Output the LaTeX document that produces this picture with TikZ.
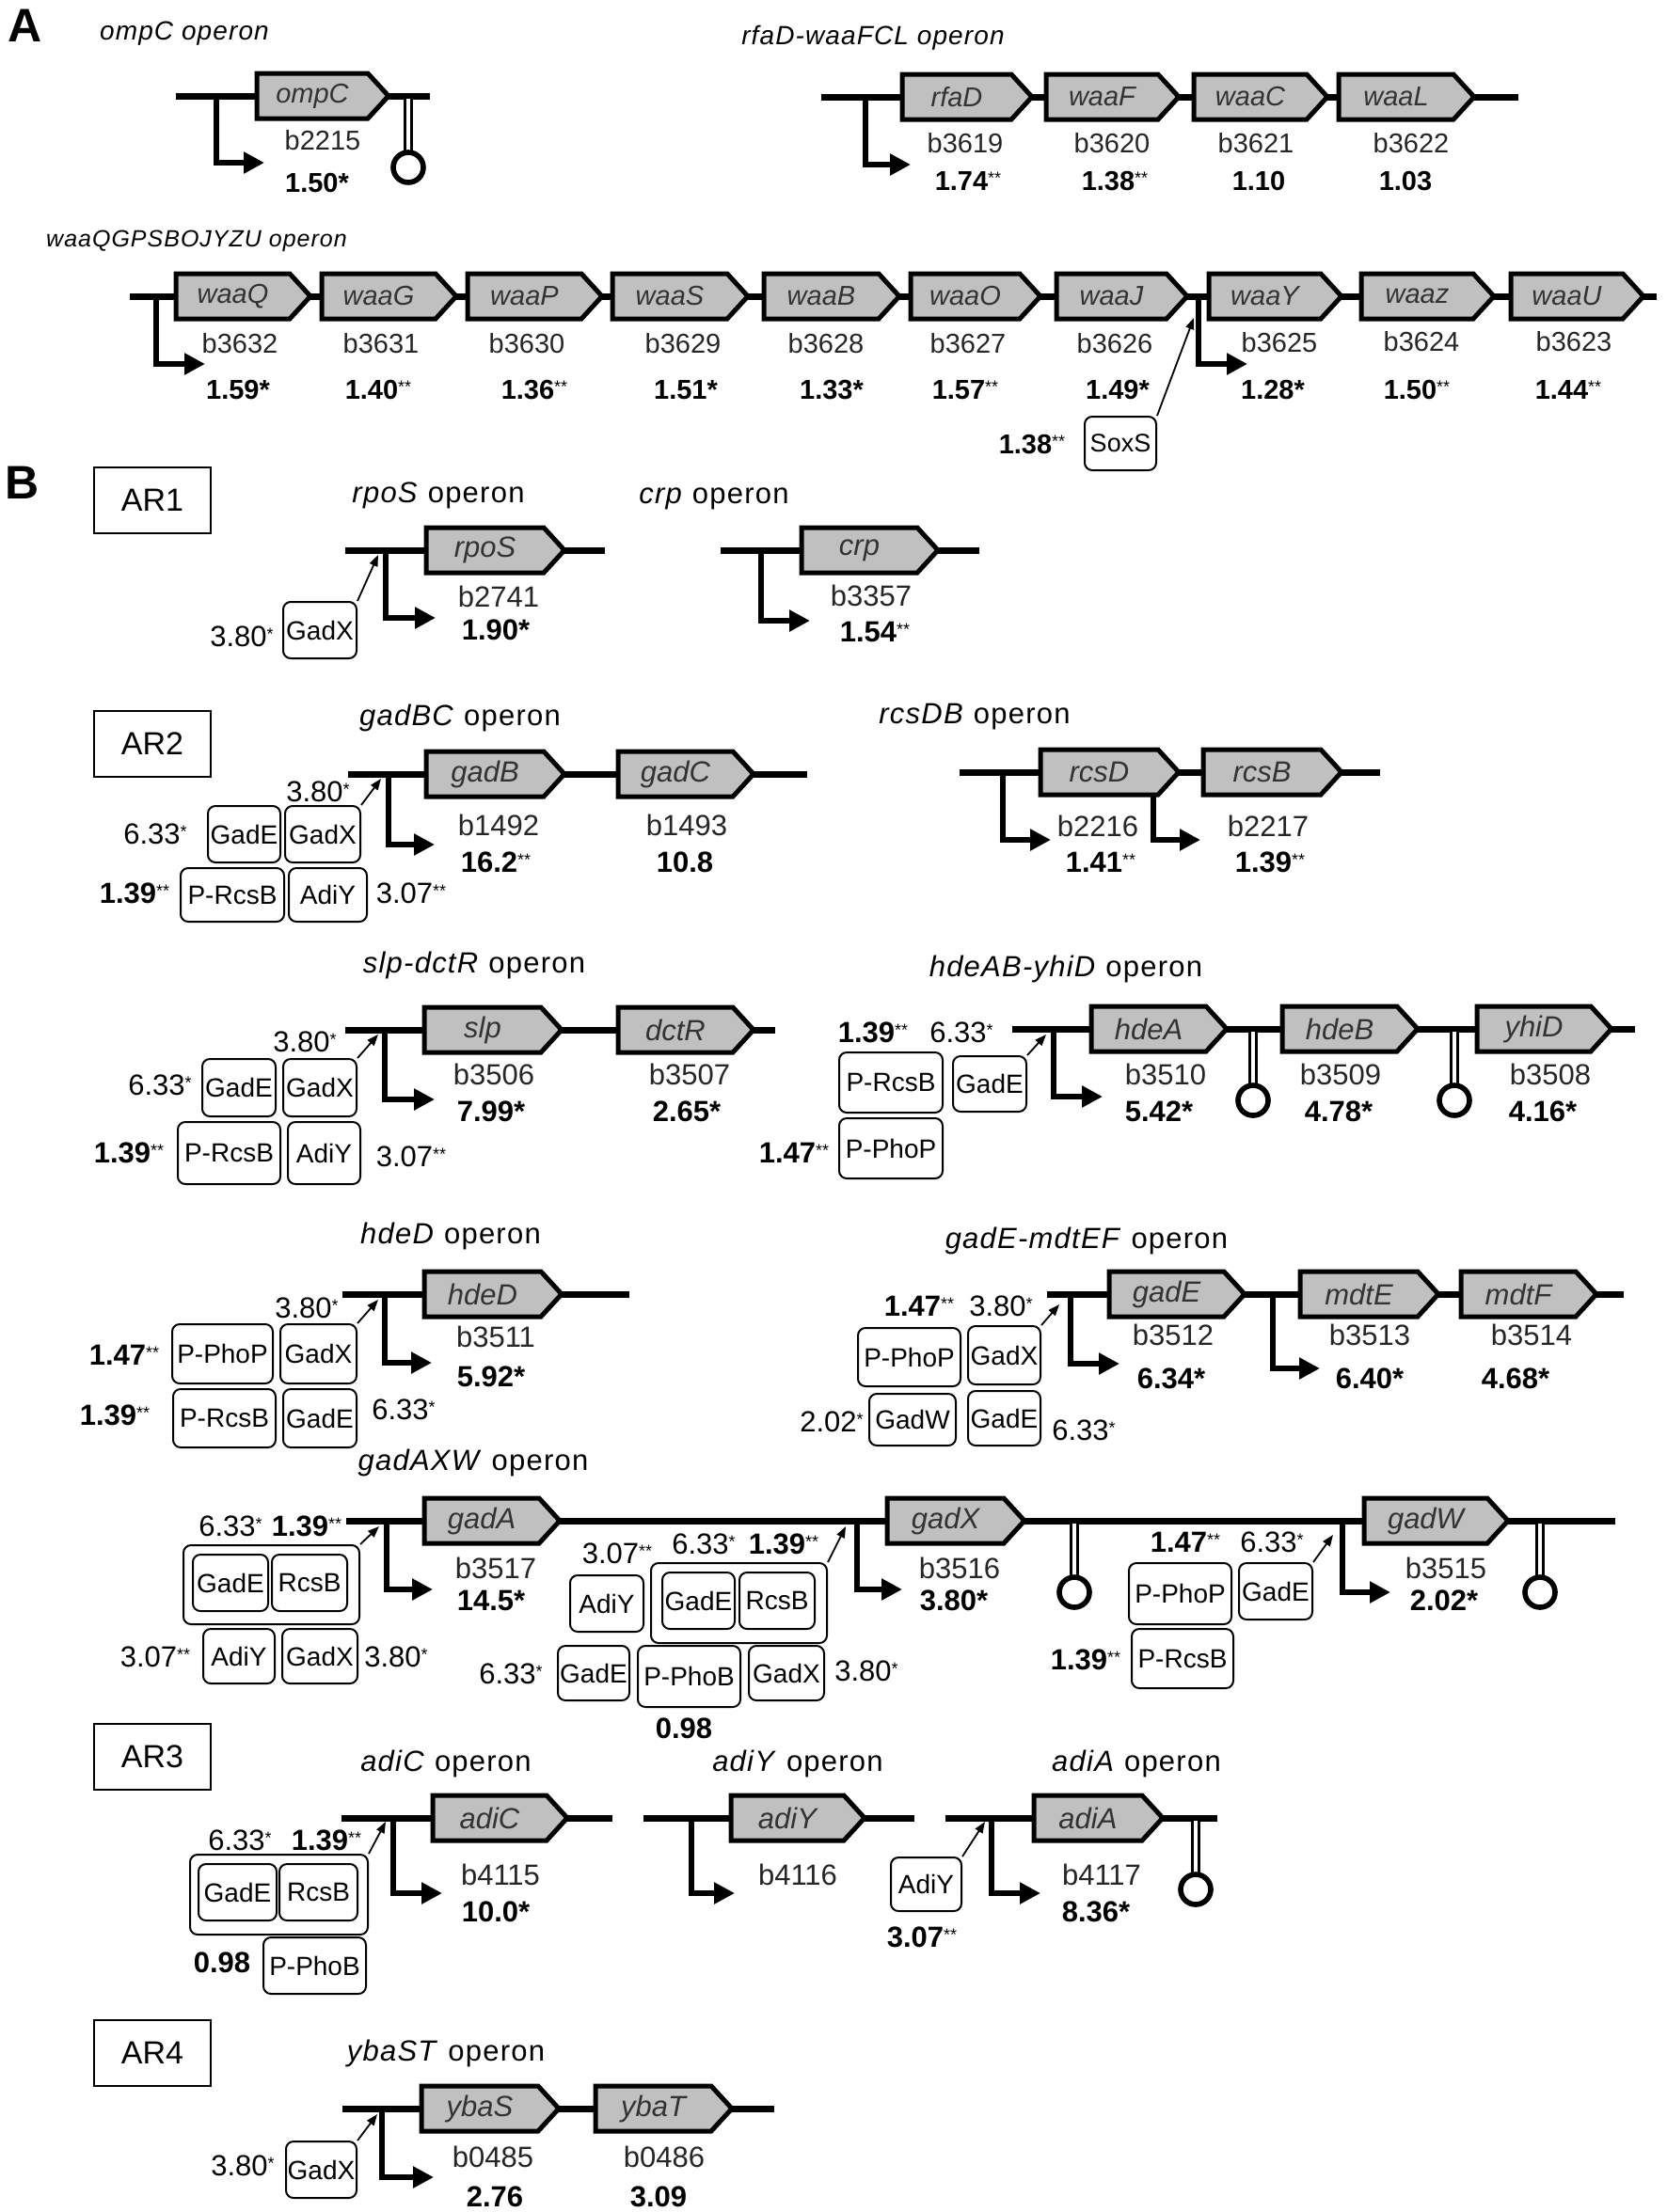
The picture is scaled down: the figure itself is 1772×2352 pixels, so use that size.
\documentclass[tikz,border=0pt]{standalone}
\usepackage{fontspec}
\setmainfont{Liberation Sans}
\newfontfamily\ttl[LetterSpace=4]{Liberation Sans}
\usetikzlibrary{arrows.meta}
\definecolor{gfill}{RGB}{192,192,192}
\newcommand\one{\raisebox{3.5pt}{\fontsize{9}{9}\selectfont\mdseries *}}
\newcommand\two{\raisebox{3.5pt}{\fontsize{9}{9}\selectfont\mdseries **}}
% gene: name, x0, xtip, y, label
\newcommand\gn[5]{\draw[genebox] (#2,#4-24) -- ({#3-22},#4-24) -- (#3,#4) -- ({#3-22},#4+24) -- (#2,#4+24) -- cycle;
 \node[glab] (#1) at ({(#2+#3-22)/2},#4) {#5};}
% terminator: name, x, ybackbone
\newcommand\term[3]{\draw[stem] (#2,#3+3) -- (#2,#3+59); \draw[loopc] (#2,#3+76) circle[radius=16]; \coordinate (#1) at (#2,#3+76);}
% promoter: name, x, ytop, ybot, xtip
\newcommand\prom[5]{\coordinate (#1) at (#2,#3); \draw[promo] (#1) -- (#2,#4) -- (#5,#4);}
% regulator box: name, x0, y0, x1, y1, text
\newcommand\reg[6]{\pgfmathsetmacro\rw{(#4-#2)*0.5}\pgfmathsetmacro\rh{(#5-#3)*0.5}%
 \node[regbox, minimum width=\rw pt, minimum height=\rh pt] (#1) at ({(#2+#4)/2},{(#3+#5)/2}) {#6};}
\tikzset{
 bb/.style={line width=3.5pt},
 genebox/.style={draw, fill=gfill, line width=2.5pt, line join=miter},
 glab/.style={font=\fontsize{15.5}{18}\selectfont\itshape, text=black!80},
 bl/.style={font=\fontsize{15.5}{18}\selectfont, text=black!85},
 gv/.style={font=\fontsize{15.5}{18}\selectfont\bfseries},
 rv/.style={font=\fontsize{15.5}{18}\selectfont},
 rvb/.style={font=\fontsize{15.5}{18}\selectfont\bfseries},
 regbox/.style={draw, rounded corners=4pt, line width=1pt, inner sep=0pt, font=\fontsize{14}{16}\selectfont},
 promo/.style={line width=3pt, line join=miter, -{Triangle[length=11pt,width=11pt]}},
 rarr/.style={line width=0.9pt, -{Triangle[length=6pt,width=4.5pt]}},
 stem/.style={line width=1.3pt, double, double distance=2pt},
 loopc/.style={line width=2.8pt},
 ttlB/.style={font=\ttl\fontsize{15.5}{18}\selectfont},
 ttlA/.style={font=\ttl\fontsize{14}{17}\selectfont\itshape},
 panel/.style={font=\fontsize{25}{30}\selectfont\bfseries},
 arbox/.style={draw, line width=1pt, inner sep=0pt, minimum width=62pt, minimum height=35pt, font=\fontsize{17}{20}\selectfont},
}
\begin{document}
\begin{tikzpicture}[x=0.5pt,y=-0.5pt]
\fill[white] (0,0) rectangle (1772,2352);
\useasboundingbox (0,0) rectangle (1772,2352);

%% ================= Panel A =================
\begin{scope}[glab/.style={font=\fontsize{14.5}{17}\selectfont\itshape, text=black!80},
  bl/.style={font=\fontsize{14.5}{17}\selectfont, text=black!85},
  gv/.style={font=\fontsize{14.5}{17}\selectfont\bfseries},
  rvb/.style={font=\fontsize{14.5}{17}\selectfont\bfseries},
  regbox/.style={draw, rounded corners=4pt, line width=1pt, inner sep=0pt, font=\fontsize{13.5}{16}\selectfont}]
\node[panel] (pA) at (27,27) {A};
% ompC
\node[ttlA] (tOmpC) at (196,36) {ompC operon};
\draw[bb] (187,102) -- (457,102);
\prom{pOmpC}{230}{102}{173}{281}
\term{tmOmpC}{434}{102}
\gn{gOmpC}{273}{413}{102}{ompC}
\node[bl] (bOmpC) at (343,149) {b2215};
\node[gv] (vOmpC) at (337,195) {1.50*};
% rfaD-waaFCL
\node[ttlA] (tRfa) at (928,40) {rfaD-waaFCL operon};
\draw[bb] (873,103) -- (1614,103);
\prom{pRfa}{920}{103}{175}{968}
\gn{gRfaD}{959}{1097}{103}{rfaD}
\gn{gWaaF}{1112}{1253}{103}{waaF}
\gn{gWaaC}{1269}{1411}{103}{waaC}
\gn{gWaaL}{1423}{1567}{103}{waaL}
\node[bl] (b3619) at (1026,152) {b3619};
\node[bl] (b3620) at (1182,152) {b3620};
\node[bl] (b3621) at (1335,152) {b3621};
\node[bl] (b3622) at (1500,152) {b3622};
\node[gv] (v3619) at (1029,193) {1.74\two};
\node[gv] (v3620) at (1185,193) {1.38\two};
\node[gv] (v3621) at (1338,193) {1.10};
\node[gv] (v3622) at (1494,193) {1.03};
% waaQGPSBOJYZU
\node[ttlA, font=\ttl\fontsize{12.5}{15}\selectfont\itshape] (tWaa) at (209,256) {waaQGPSBOJYZU operon};
\draw[bb] (138,315) -- (1761,315);
\prom{pWaa1}{166}{315}{387}{218}
\prom{pWaa2}{1274}{315}{387}{1326}
\gn{gWaaQ}{187}{330}{315}{waaQ}
\gn{gWaaG}{342}{485}{315}{waaG}
\gn{gWaaP}{497}{640}{315}{waaP}
\gn{gWaaS}{651}{795}{315}{waaS}
\gn{gWaaB}{812}{956}{315}{waaB}
\gn{gWaaO}{968}{1106}{315}{waaO}
\gn{gWaaJ}{1123}{1262}{315}{waaJ}
\gn{gWaaY}{1285}{1426}{315}{waaY}
\gn{gWaaZ}{1447}{1588}{315}{waaz}
\gn{gWaaU}{1606}{1747}{315}{waaU}
\node[bl] (b3632) at (255,365) {b3632};
\node[bl] (b3631) at (405,365) {b3631};
\node[bl] (b3630) at (560,365) {b3630};
\node[bl] (b3629) at (726,365) {b3629};
\node[bl] (b3628) at (878,365) {b3628};
\node[bl] (b3627) at (1029,365) {b3627};
\node[bl] (b3626) at (1185,365) {b3626};
\node[bl] (b3625) at (1360,364) {b3625};
\node[bl] (b3624) at (1511,363) {b3624};
\node[bl] (b3623) at (1673,363) {b3623};
\node[gv] (v3632) at (253,415) {1.59*};
\node[gv] (v3631) at (402,415) {1.40\two};
\node[gv] (v3630) at (568,415) {1.36\two};
\node[gv] (v3629) at (729,415) {1.51*};
\node[gv] (v3628) at (884,415) {1.33*};
\node[gv] (v3627) at (1026,415) {1.57\two};
\node[gv] (v3626) at (1188,415) {1.49*};
\node[gv] (v3625) at (1353,415) {1.28*};
\node[gv] (v3624) at (1506,415) {1.50\two};
\node[gv] (v3623) at (1667,415) {1.44\two};
\reg{rSoxS}{1153}{443}{1229}{500}{SoxS}
\coordinate (aSoxS) at (1269,338);
\draw[rarr] (rSoxS.north east) -- (aSoxS);
\node[rvb] (vSoxS) at (1097,473) {1.38\two};
\end{scope}

%% ================= Panel B =================
\node[panel] (pB) at (24,513) {B};
\node[arbox] (ar1) at (162,532) {AR1};
\node[arbox] (ar2) at (162,791) {AR2};
\node[arbox] (ar3) at (162,1868) {AR3};
\node[arbox] (ar4) at (162,2183) {AR4};

% rpoS
\node[ttlB] (tRpoS) at (466,527) {\textit{rpoS} operon};
\draw[bb] (367,585) -- (643,585);
\prom{pRpoS}{410}{585}{657}{463}
\gn{gRpoS}{453}{600}{585}{rpoS}
\node[bl] (b2741) at (530,634) {b2741};
\node[gv] (v2741) at (527,670) {1.90*};
\reg{rGadX1}{301}{640}{379}{700}{GadX}
\coordinate (aRpoS) at (402,590);
\draw[rarr] (rGadX1.north east) -- (aRpoS);
\node[rv] (vGadX1) at (257,677) {3.80\one};

% crp
\node[ttlB] (tCrp) at (759,530) {\textit{crp} operon};
\draw[bb] (766,585) -- (1041,585);
\prom{pCrp}{809}{585}{660}{861}
\gn{gCrp}{852}{997}{585}{crp}
\node[bl] (b3357) at (926,633) {b3357};
\node[gv] (v3357) at (930,672) {1.54\two};

% gadBC
\node[ttlB] (tGadBC) at (489,763) {\textit{gadBC} operon};
\draw[bb] (370,823) -- (858,823);
\prom{pGadBC}{413}{823}{898}{462}
\gn{gGadB}{453}{600}{823}{gadB}
\gn{gGadC}{657}{801}{823}{gadC}
\node[bl] (b1492) at (530,877) {b1492};
\node[gv] (v1492) at (527,917) {16.2\two};
\node[bl] (b1493) at (730,877) {b1493};
\node[gv] (v1493) at (728,917) {10.8};
\reg{rGadE2}{221}{857}{298}{917}{GadE}
\reg{rGadX2}{303}{857}{383}{917}{GadX}
\reg{rRcsB2}{192}{923}{302}{980}{P-RcsB}
\reg{rAdiY2}{307}{923}{390}{980}{AdiY}
\coordinate (aGadBC) at (405,828);
\draw[rarr] (rGadX2.north east) -- (aGadBC);
\node[rv] (vGadX2) at (338,842) {3.80\one};
\node[rv] (vGadE2) at (165,887) {6.33\one};
\node[rvb] (vRcsB2) at (143,950) {1.39\two};
\node[rv] (vAdiY2) at (437,950) {3.07\two};

% rcsDB
\node[ttlB] (tRcsDB) at (1036,762) {\textit{rcsDB} operon};
\draw[bb] (1020,821) -- (1467,821);
\prom{pRcsD}{1066}{821}{893}{1117}
\gn{gRcsD}{1106}{1253}{821}{rcsD}
\gn{gRcsB}{1279}{1426}{821}{rcsB}
\prom{pRcsB}{1226}{845}{893}{1276}
\node[bl] (b2216) at (1167,878) {b2216};
\node[gv] (v2216) at (1170,917) {1.41\two};
\node[bl] (b2217) at (1348,878) {b2217};
\node[gv] (v2217) at (1350,917) {1.39\two};

% slp-dctR
\node[ttlB] (tSlp) at (504,1026) {\textit{slp-dctR} operon};
\draw[bb] (367,1095) -- (824,1095);
\prom{pSlp}{409}{1095}{1169}{462}
\gn{gSlp}{451}{597}{1095}{slp}
\gn{gDctR}{657}{801}{1095}{dctR}
\node[bl] (b3506) at (525,1142) {b3506};
\node[gv] (v3506) at (522,1182) {7.99*};
\node[bl] (b3507) at (733,1142) {b3507};
\node[gv] (v3507) at (730,1182) {2.65*};
\reg{rGadE3}{215}{1126}{293}{1187}{GadE}
\reg{rGadX3}{301}{1126}{379}{1187}{GadX}
\reg{rRcsB3}{189}{1193}{298}{1259}{P-RcsB}
\reg{rAdiY3}{306}{1193}{383}{1259}{AdiY}
\coordinate (aSlp) at (402,1100);
\draw[rarr] (rGadX3.north east) -- (aSlp);
\node[rv] (vGadX3) at (324,1108) {3.80\one};
\node[rv] (vGadE3) at (170,1154) {6.33\one};
\node[rvb] (vRcsB3) at (137,1226) {1.39\two};
\node[rv] (vAdiY3) at (437,1230) {3.07\two};

% hdeAB-yhiD
\node[ttlB] (tHdeAB) at (1133,1030) {\textit{hdeAB-yhiD} operon};
\draw[bb] (1076,1094) -- (1738,1094);
\prom{pHdeA}{1120}{1094}{1166}{1172}
\term{tmHde1}{1332}{1094}
\term{tmHde2}{1546}{1094}
\gn{gHdeA}{1160}{1304}{1094}{hdeA}
\gn{gHdeB}{1363}{1507}{1094}{hdeB}
\gn{gYhiD}{1570}{1713}{1094}{yhiD}
\node[bl] (b3510) at (1239,1142) {b3510};
\node[gv] (v3510) at (1232,1182) {5.42*};
\node[bl] (b3509) at (1425,1142) {b3509};
\node[gv] (v3509) at (1423,1182) {4.78*};
\node[bl] (b3508) at (1648,1142) {b3508};
\node[gv] (v3508) at (1640,1182) {4.16*};
\reg{rRcsB4}{892}{1119}{1002}{1183}{P-RcsB}
\reg{rGadE4}{1013}{1123}{1091}{1182}{GadE}
\reg{rPhoP4}{892}{1189}{1002}{1253}{P-PhoP}
\coordinate (aHdeA) at (1112,1100);
\draw[rarr] (rGadE4.north east) -- (aHdeA);
\node[rvb] (vRcsB4) at (928,1098) {1.39\two};
\node[rv] (vGadE4) at (1022,1098) {6.33\one};
\node[rvb] (vPhoP4) at (844,1226) {1.47\two};

% hdeD
\node[ttlB] (tHdeD) at (479,1314) {\textit{hdeD} operon};
\draw[bb] (364,1376) -- (669,1376);
\prom{pHdeD}{409}{1376}{1449}{459}
\gn{gHdeD}{451}{597}{1376}{hdeD}
\node[bl] (b3511) at (527,1421) {b3511};
\node[gv] (v3511) at (522,1464) {5.92*};
\reg{rPhoP5}{183}{1408}{290}{1471}{P-PhoP}
\reg{rGadX5}{298}{1408}{379}{1471}{GadX}
\reg{rRcsB5}{184}{1477}{293}{1539}{P-RcsB}
\reg{rGadE5}{301}{1477}{379}{1539}{GadE}
\coordinate (aHdeD) at (402,1382);
\draw[rarr] (rGadX5.north east) -- (aHdeD);
\node[rv] (vGadX5) at (326,1391) {3.80\one};
\node[rvb] (vPhoP5) at (132,1441) {1.47\two};
\node[rvb] (vRcsB5) at (122,1505) {1.39\two};
\node[rv] (vGadE5) at (429,1499) {6.33\one};

% gadE-mdtEF
\node[ttlB] (tGadE) at (1155,1319) {\textit{gadE-mdtEF} operon};
\draw[bb] (1113,1376) -- (1726,1376);
\prom{pGadE}{1138}{1376}{1450}{1190}
\prom{pMdtE}{1353}{1376}{1455}{1403}
\gn{gGadE}{1179}{1323}{1376}{gadE}
\gn{gMdtE}{1382}{1529}{1376}{mdtE}
\gn{gMdtF}{1553}{1697}{1376}{mdtF}
\node[bl] (b3512) at (1247,1419) {b3512};
\node[gv] (v3512) at (1245,1466) {6.34*};
\node[bl] (b3513) at (1456,1419) {b3513};
\node[gv] (v3513) at (1456,1466) {6.40*};
\node[bl] (b3514) at (1628,1419) {b3514};
\node[gv] (v3514) at (1611,1466) {4.68*};
\reg{rPhoP6}{912}{1412}{1021}{1474}{P-PhoP}
\reg{rGadX6}{1029}{1410}{1106}{1472}{GadX}
\reg{rGadW6}{924}{1482}{1016}{1537}{GadW}
\reg{rGadE6}{1029}{1479}{1106}{1537}{GadE}
\coordinate (aGadE) at (1126,1387);
\draw[rarr] (rGadX6.north east) -- (aGadE);
\node[rvb] (vPhoP6) at (977,1389) {1.47\two};
\node[rv] (vGadX6) at (1064,1389) {3.80\one};
\node[rv] (vGadW6) at (884,1512) {2.02\one};
\node[rv] (vGadE6) at (1152,1521) {6.33\one};

% gadAXW
\node[ttlB] (tGadAXW) at (503,1555) {\textit{gadAXW} operon};
\draw[bb] (368,1617) -- (1717,1617);
\prom{pGadA}{411}{1617}{1690}{460}
\prom{pGadX}{911}{1617}{1690}{959}
\prom{pGadW}{1427}{1617}{1693}{1478}
\term{tmGadX}{1142}{1617}
\term{tmGadW}{1637}{1617}
\gn{gGadA}{451}{595}{1617}{gadA}
\gn{gGadX}{943}{1089}{1617}{gadX}
\gn{gGadW}{1450}{1603}{1617}{gadW}
\node[bl] (b3517) at (527,1667) {b3517};
\node[gv] (v3517) at (522,1702) {14.5*};
\node[bl] (b3516) at (1020,1667) {b3516};
\node[gv] (v3516) at (1014,1702) {3.80*};
\node[bl] (b3515) at (1537,1667) {b3515};
\node[gv] (v3515) at (1535,1702) {2.02*};
% first promoter regulators
\reg{cx7a}{195}{1643}{382}{1727}{}
\reg{rGadE7}{205}{1653}{285}{1713}{GadE}
\reg{rRcsB7}{289}{1653}{369}{1713}{RcsB}
\reg{rAdiY7}{216}{1732}{292}{1790}{AdiY}
\reg{rGadX7}{300}{1732}{380}{1790}{GadX}
\coordinate (aGadA) at (403,1623);
\draw[rarr] (cx7a.north east) -- (aGadA);
\node[rv] (vGadE7) at (245,1623) {6.33\one};
\node[rvb] (vRcsB7) at (326,1623) {1.39\two};
\node[rv] (vAdiY7) at (165,1762) {3.07\two};
\node[rv] (vGadX7) at (421,1762) {3.80\one};
% second promoter regulators
\reg{rAdiY8}{606}{1675}{684}{1735}{AdiY}
\reg{cx8}{692}{1662}{879}{1747}{}
\reg{rGadE8}{704}{1672}{781}{1732}{GadE}
\reg{rRcsB8}{786}{1672}{866}{1732}{RcsB}
\reg{rGadE8b}{593}{1750}{669}{1808}{GadE}
\reg{rPhoB8}{678}{1750}{787}{1815}{P-PhoB}
\reg{rGadX8}{796}{1750}{876}{1808}{GadX}
\coordinate (aGadX) at (899,1623);
\draw[rarr] (cx8.north east) -- (aGadX);
\node[rv] (vAdiY8) at (656,1652) {3.07\two};
\node[rv] (vGadE8) at (748,1642) {6.33\one};
\node[rvb] (vRcsB8) at (833,1642) {1.39\two};
\node[rv] (vGadE8b) at (543,1780) {6.33\one};
\node[rv] (vGadX8) at (921,1777) {3.80\one};
\node[rvb] (vPhoB8) at (727,1838) {0.98};
% third promoter regulators
\reg{rPhoP9}{1200}{1662}{1309}{1727}{P-PhoP}
\reg{rGadE9}{1317}{1662}{1395}{1722}{GadE}
\reg{rRcsB9}{1203}{1732}{1311}{1795}{P-RcsB}
\coordinate (aGadW) at (1417,1632);
\draw[rarr] (rGadE9.north east) -- (aGadW);
\node[rvb] (vPhoP9) at (1260,1640) {1.47\two};
\node[rv] (vGadE9) at (1352,1640) {6.33\one};
\node[rvb] (vRcsB9) at (1154,1765) {1.39\two};

% adiC
\node[ttlB] (tAdiC) at (474,1875) {\textit{adiC} operon};
\draw[bb] (363,1933) -- (651,1933);
\prom{pAdiC}{418}{1933}{2013}{470}
\gn{gAdiC}{460}{603}{1933}{adiC}
\node[bl] (b4115) at (532,1993) {b4115};
\node[gv] (v4115) at (527,2033) {10.0*};
\reg{cx10}{202}{1972}{391}{2057}{}
\reg{rGadE10}{211}{1982}{294}{2042}{GadE}
\reg{rRcsB10}{297}{1982}{380}{2042}{RcsB}
\reg{rPhoB10}{280}{2060}{389}{2120}{P-PhoB}
\coordinate (aAdiC) at (410,1937);
\draw[rarr] (cx10.north east) -- (aAdiC);
\node[rv] (vGadE10) at (255,1957) {6.33\one};
\node[rvb] (vRcsB10) at (347,1957) {1.39\two};
\node[rvb] (vPhoB10) at (236,2087) {0.98};

% adiY
\node[ttlB] (tAdiY) at (848,1875) {\textit{adiY} operon};
\draw[bb] (684,1933) -- (972,1933);
\prom{pAdiY}{735}{1933}{2013}{781}
\gn{gAdiY}{777}{919}{1933}{adiY}
\node[bl] (b4116) at (848,1993) {b4116};

% adiA
\node[ttlB] (tAdiA) at (1208,1875) {\textit{adiA} operon};
\draw[bb] (1005,1933) -- (1294,1933);
\prom{pAdiA}{1054}{1933}{2013}{1106}
\term{tmAdiA}{1271}{1933}
\gn{gAdiA}{1099}{1236}{1933}{adiA}
\node[bl] (b4117) at (1171,1993) {b4117};
\node[gv] (v4117) at (1165,2033) {8.36*};
\reg{rAdiY11}{947}{1975}{1022}{2032}{AdiY}
\coordinate (aAdiA) at (1047,1937);
\draw[rarr] (rAdiY11.north east) -- (aAdiA);
\node[rvb] (vAdiY11) at (980,2060) {3.07\two};

% ybaST
\node[ttlB] (tYbaST) at (474,2183) {\textit{ybaST} operon};
\draw[bb] (364,2242) -- (823,2242);
\prom{pYbaS}{406}{2242}{2315}{461}
\gn{gYbaS}{448}{594}{2242}{ybaS}
\gn{gYbaT}{633}{778}{2242}{ybaT}
\node[bl] (b0485) at (524,2293) {b0485};
\node[gv] (v0485) at (526,2336) {2.76};
\node[bl] (b0486) at (706,2293) {b0486};
\node[gv] (v0486) at (700,2336) {3.09};
\reg{rGadX12}{304}{2277}{379}{2337}{GadX}
\coordinate (aYbaS) at (401,2248);
\draw[rarr] (rGadX12.north east) -- (aYbaS);
\node[rv] (vGadX12) at (258,2303) {3.80\one};
\end{tikzpicture}
\end{document}
